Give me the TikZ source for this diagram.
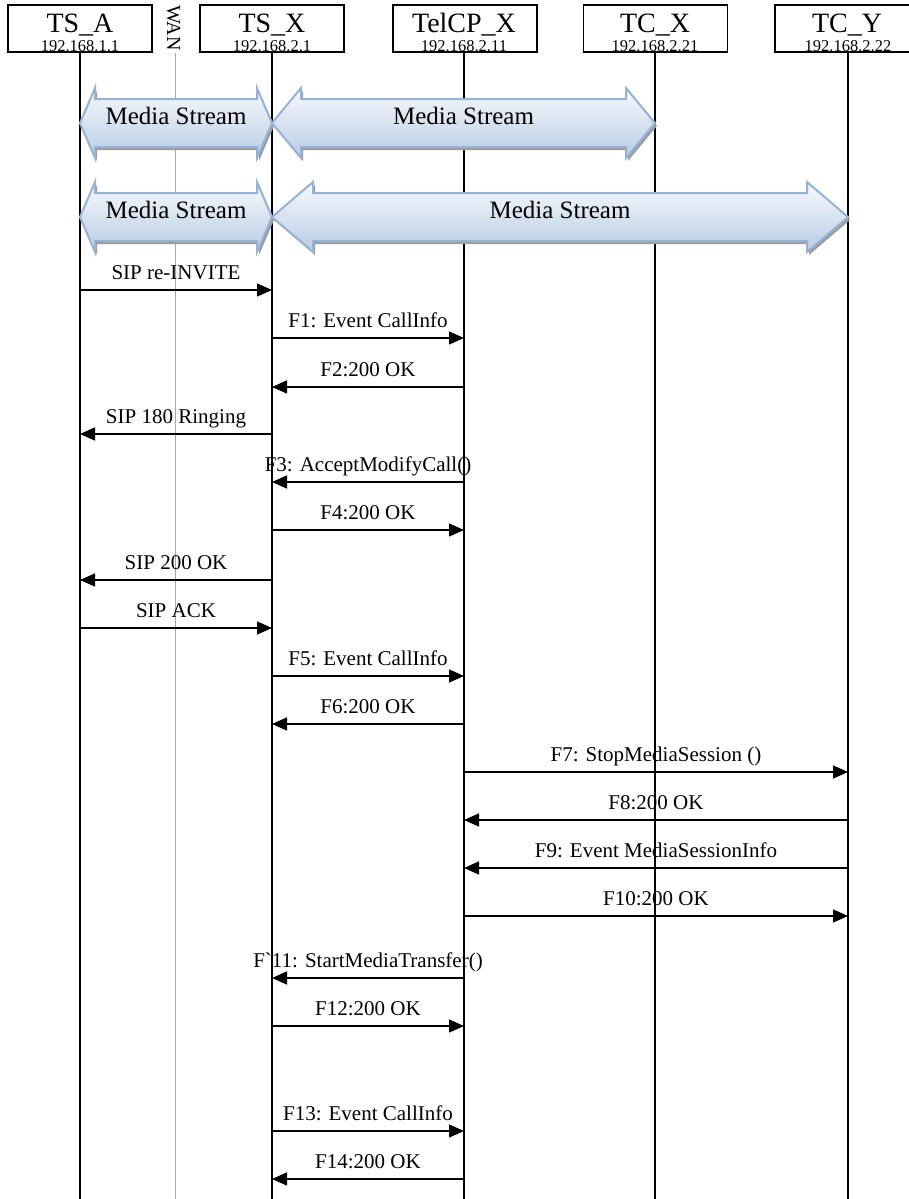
\documentclass[tikz,border=0pt]{standalone}
\usepackage{fontspec}
\setmainfont{Liberation Serif}
\usetikzlibrary{arrows.meta,calc}

\definecolor{msborder}{HTML}{95B3D7}
\definecolor{mstop}{HTML}{F7F9FC}
\definecolor{msbot}{HTML}{B8CCE4}
\definecolor{msshadow}{HTML}{9C9C9C}
\definecolor{wangray}{HTML}{A6A6A6}

\tikzset{
 hdrbox/.style={draw=black, line width=1.5pt, minimum width=144pt, minimum height=47pt, inner sep=0pt},
 hdrname/.style={anchor=base, font=\fontsize{28}{30}\selectfont, inner sep=0pt},
 hdrip/.style={anchor=base, font=\fontsize{16.5}{18}\selectfont, inner sep=0pt},
 lifeline/.style={line width=1.5pt, black},
 wanline/.style={line width=1pt, wangray},
 msg/.style={line width=1.3pt, -{Triangle[length=15pt,width=13pt]}},
 msglbl/.style={anchor=base, font=\fontsize{21}{23}\selectfont, inner sep=0pt, yshift=11pt},
 msbody/.style={draw=msborder, line width=2pt, top color=mstop, bottom color=msbot, line join=miter},
 msshade/.style={fill=msshadow, draw=none},
 mstext/.style={anchor=base, font=\fontsize{25}{27}\selectfont, inner sep=0pt},
}

% x1, x2, yc, head length
\newcommand\msshapepath[4]{(#1,#3) -- ({#1+#4},{#3-35}) -- ({#1+#4},{#3-24}) -- ({#2-#4},{#3-24}) -- ({#2-#4},{#3-35}) -- (#2,#3) -- ({#2-#4},{#3+35}) -- ({#2-#4},{#3+24}) -- ({#1+#4},{#3+24}) -- ({#1+#4},{#3+35}) -- cycle}
% x1, x2, yc, head length, name
\newcommand\mediaarrow[5]{%
 \path[msshade, shift={(2,3)}] \msshapepath{#1}{#2}{#3}{#4};
 \path[msbody] \msshapepath{#1}{#2}{#3}{#4};
 \node[mstext] (#5) at ({(#1+#2)/2},{#3+1}) {Media Stream};
}
% from, to, y, label
\newcommand\msgline[4]{%
 \coordinate (my) at (0,#3);
 \draw[msg] (#1 |- my) -- (#2 |- my) node[midway, msglbl] {#4};
}

\begin{document}
\begin{tikzpicture}[x=1pt, y=-1pt]
\useasboundingbox (0,0) rectangle (909,1199);
\coordinate (bottom) at (0,1199);

% lifeline heads
\coordinate (tsa) at (80,52);
\coordinate (tsx) at (272,52);
\coordinate (telcp) at (464,52);
\coordinate (tcx) at (655,52);
\coordinate (tcy) at (848,52);
\coordinate (wanbot) at (175,53);

% header boxes
\node[hdrbox] (btsa) at (80,28.5) {};
\node[hdrbox] (btsx) at (272,28.5) {};
\node[hdrbox] (btelcp) at (465,28.5) {};
\node[hdrbox] (btcx) at (655.5,28.5) {};
\node[hdrbox] (btcy) at (847,28.5) {};

\node[hdrname] (ntsa) at (80,33) {TS\_A};
\node[hdrname] (ntsx) at (272,33) {TS\_X};
\node[hdrname] (ntelcp) at (464,33) {TelCP\_X};
\node[hdrname] (ntcx) at (655,33) {TC\_X};
\node[hdrname] (ntcy) at (847,33) {TC\_Y};

\node[hdrip] (itsa) at (80,51.5) {192.168.1.1};
\node[hdrip] (itsx) at (272,51.5) {192.168.2.1};
\node[hdrip] (itelcp) at (464,51.5) {192.168.2.11};
\node[hdrip] (itcx) at (655,51.5) {192.168.2.21};
\node[hdrip] (itcy) at (848,51.5) {192.168.2.22};

\node[rotate=-90, font=\fontsize{20}{22}\selectfont, inner sep=0pt] (wan) at (173.5,28) {WAN};

% lifelines
\draw[wanline] (wanbot) -- (wanbot |- bottom);
\draw[lifeline] (tsa) -- (tsa |- bottom);
\draw[lifeline] (tsx) -- (tsx |- bottom);
\draw[lifeline] (telcp) -- (telcp |- bottom);
\draw[lifeline] (tcx) -- (tcx |- bottom);
\draw[lifeline] (tcy) -- (tcy |- bottom);

% media streams
\mediaarrow{80}{272}{123}{15}{ms1}
\mediaarrow{272}{655}{123}{29}{ms2}
\mediaarrow{80}{272}{217}{15}{ms3}
\mediaarrow{272}{848}{217}{41}{ms4}

% messages
\msgline{tsa}{tsx}{290}{SIP re-INVITE}
\msgline{tsx}{telcp}{338}{F1: Event CallInfo}
\msgline{telcp}{tsx}{387}{F2:200 OK}
\msgline{tsx}{tsa}{434}{SIP 180 Ringing}
\msgline{telcp}{tsx}{482}{F3: AcceptModifyCall()}
\msgline{tsx}{telcp}{530}{F4:200 OK}
\msgline{tsx}{tsa}{580}{SIP 200 OK}
\msgline{tsa}{tsx}{628}{SIP ACK}
\msgline{tsx}{telcp}{676}{F5: Event CallInfo}
\msgline{telcp}{tsx}{724}{F6:200 OK}
\msgline{telcp}{tcy}{772}{F7: StopMediaSession ()}
\msgline{tcy}{telcp}{820}{F8:200 OK}
\msgline{tcy}{telcp}{868}{F9: Event MediaSessionInfo}
\msgline{telcp}{tcy}{916}{F10:200 OK}
\msgline{telcp}{tsx}{978}{F\textasciigrave 11: StartMediaTransfer()}
\msgline{tsx}{telcp}{1026}{F12:200 OK}
\msgline{tsx}{telcp}{1131}{F13: Event CallInfo}
\msgline{telcp}{tsx}{1179}{F14:200 OK}
\end{tikzpicture}
\end{document}
